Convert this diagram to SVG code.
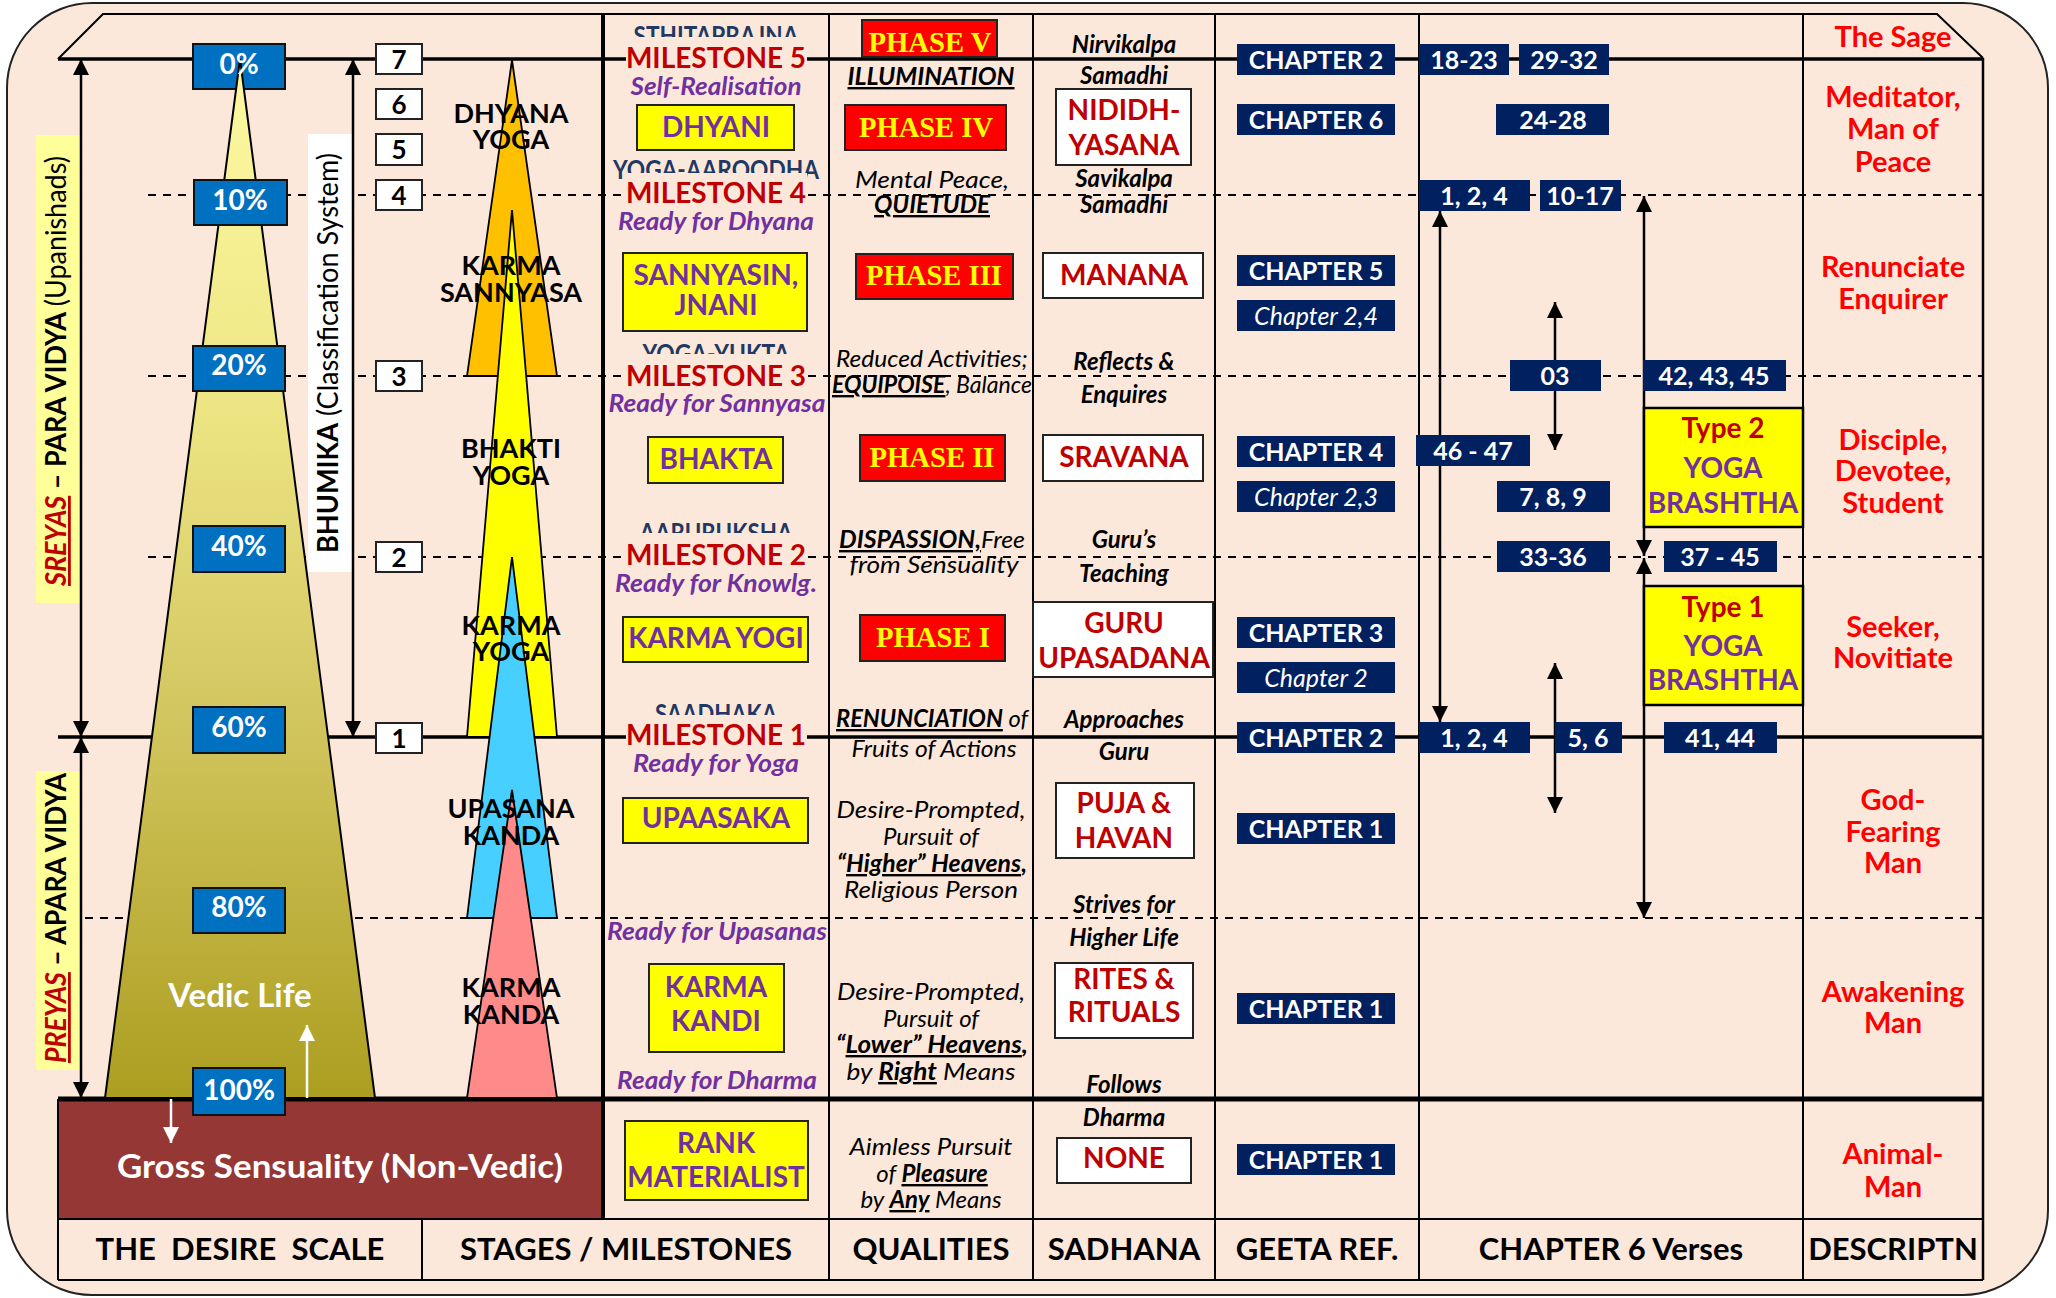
<svg xmlns="http://www.w3.org/2000/svg" width="2056" height="1298" viewBox="0 0 2056 1298">
<defs>
<linearGradient id="gScale" x1="0" y1="0" x2="0" y2="1">
<stop offset="0" stop-color="#FDF9A3"/>
<stop offset="0.3" stop-color="#F0E887"/>
<stop offset="0.6" stop-color="#D5C964"/>
<stop offset="1" stop-color="#AC9E20"/>
</linearGradient>
<marker id="ah" viewBox="0 0 16 16" refX="16" refY="8" markerWidth="16" markerHeight="16" markerUnits="userSpaceOnUse" orient="auto-start-reverse">
<path d="M0,0 L16,8 L0,16 z" fill="#000"/>
</marker>
<marker id="wh" viewBox="0 0 16 16" refX="16" refY="8" markerWidth="16" markerHeight="16" markerUnits="userSpaceOnUse" orient="auto">
<path d="M0,0 L16,8 L0,16 z" fill="#fff"/>
</marker>
</defs>
<style>
text{font-family:Lato,"Open Sans","DejaVu Sans",sans-serif}
.B{font-weight:700}
.I{font-style:italic}
.U{text-decoration:underline}
.pct{font-weight:700;font-size:28px;fill:#fff;text-anchor:middle}
.num{font-weight:700;font-size:26px;fill:#000;text-anchor:middle}
.cone{font-weight:700;font-size:27px;fill:#000;text-anchor:middle}
.ms{font-weight:700;font-size:28px;fill:#C00000;text-anchor:middle}
.pre{font-weight:700;font-size:27px;fill:#1F3864;text-anchor:middle}
.rdy{font-weight:700;font-style:italic;font-size:24px;fill:#7030A0;text-anchor:middle}
.stg{font-weight:700;font-size:28px;fill:#7030A0;text-anchor:middle}
.ph{font-family:"Liberation Serif","Times New Roman",serif;font-weight:700;font-size:30px;fill:#FFFF00;text-anchor:middle}
.q{font-style:italic;font-size:24px;fill:#000;text-anchor:middle}
.s{font-weight:700;font-style:italic;font-size:24px;fill:#000;text-anchor:middle}
.sd{font-weight:700;font-size:28px;fill:#C00000;text-anchor:middle}
.ch{font-weight:700;font-size:25px;fill:#fff;text-anchor:middle}
.chi{font-style:italic;font-size:25px;fill:#fff;text-anchor:middle}
.ds{font-weight:700;font-size:29px;fill:#FF0000;text-anchor:middle}
.hd{font-weight:700;font-size:31px;fill:#000;text-anchor:middle}
.ybox{fill:#FFFF00;stroke:#222;stroke-width:2}
.wbox{fill:#fff;stroke:#222;stroke-width:2}
.rbox{fill:#FF0000;stroke:#222;stroke-width:2}
.nbox{fill:#002060}
.pbox{fill:#0070C0;stroke:#111;stroke-width:2}
.bg{fill:#FCE8DA}
.dash{stroke:#000;stroke-width:1.8;stroke-dasharray:8 7;fill:none}
.thin{stroke:#000;stroke-width:2;fill:none}
.cone-s{stroke:#000;stroke-width:1.8}
.arr{stroke:#000;stroke-width:2.5;fill:none;marker-start:url(#ah);marker-end:url(#ah)}
.warr{stroke:#fff;stroke-width:2.5;fill:none;marker-end:url(#wh)}
</style>

<rect width="2056" height="1298" fill="#fff"/>
<rect x="7" y="3" width="2041" height="1292" rx="85" fill="#FCE8DA" stroke="#222" stroke-width="2"/>

<g id="frame">
<rect x="58" y="1099" width="545" height="120" fill="#953735"/>
<path class="thin" d="M58,59 L103,14 L1937,14 L1983,58"/>
<line class="dash" x1="148" y1="195" x2="1983" y2="195"/>
<line class="dash" x1="148" y1="376" x2="1983" y2="376"/>
<line class="dash" x1="148" y1="557" x2="1983" y2="557"/>
<line class="dash" x1="85" y1="918" x2="1983" y2="918"/>
<line x1="58" y1="59" x2="1983" y2="59" stroke="#000" stroke-width="3.5"/>
<line x1="58" y1="737" x2="1983" y2="737" stroke="#000" stroke-width="3.5"/>
<line x1="58" y1="1099" x2="1983" y2="1099" stroke="#000" stroke-width="5"/>
<line class="thin" x1="58" y1="1219" x2="1983" y2="1219"/>
<line class="thin" x1="58" y1="1280" x2="1983" y2="1280"/>
<line class="thin" x1="58" y1="1099" x2="58" y2="1280"/>
<line class="thin" x1="422" y1="1219" x2="422" y2="1280"/>
<line x1="603" y1="14" x2="603" y2="1219" stroke="#000" stroke-width="4"/>
<line class="thin" x1="829" y1="14" x2="829" y2="1280"/>
<line class="thin" x1="1033" y1="14" x2="1033" y2="1280"/>
<line class="thin" x1="1215" y1="14" x2="1215" y2="1280"/>
<line class="thin" x1="1419" y1="14" x2="1419" y2="1280"/>
<line class="thin" x1="1803" y1="14" x2="1803" y2="1280"/>
<line x1="1983" y1="58" x2="1983" y2="1280" stroke="#000" stroke-width="2.5"/>
</g>

<g id="sreyas-label">
<rect x="36" y="135" width="44" height="468" fill="#FFFF99"/>
<text transform="translate(66,586) rotate(-90)" font-size="28" textLength="430" lengthAdjust="spacingAndGlyphs"><tspan class="B I U" fill="#C00000">SREYAS</tspan><tspan class="B"> – PARA VIDYA </tspan><tspan>(Upanishads)</tspan></text>
</g>
<g id="preyas-label">
<rect x="36" y="771" width="45" height="299" fill="#FFFF99"/>
<text transform="translate(66,1063) rotate(-90)" font-size="28" textLength="290" lengthAdjust="spacingAndGlyphs"><tspan class="B I U" fill="#C00000">PREYAS</tspan><tspan class="B"> – APARA VIDYA</tspan></text>
</g>
<g id="bhumika-label">
<rect x="308" y="134" width="44" height="438" fill="#fff"/>
<text transform="translate(338,553) rotate(-90)" font-size="28" textLength="400" lengthAdjust="spacingAndGlyphs"><tspan class="B">BHUMIKA</tspan><tspan> (Classification System)</tspan></text>
</g>

<g id="levels">
<rect class="wbox" x="376" y="44" width="46" height="30"/><text class="num" x="399" y="69">7</text>
<rect class="wbox" x="376" y="89" width="46" height="30"/><text class="num" x="399" y="114">6</text>
<rect class="wbox" x="376" y="134" width="46" height="31"/><text class="num" x="399" y="159">5</text>
<rect class="wbox" x="376" y="180" width="46" height="30"/><text class="num" x="399" y="205">4</text>
<rect class="wbox" x="376" y="361" width="46" height="30"/><text class="num" x="399" y="386">3</text>
<rect class="wbox" x="376" y="542" width="46" height="30"/><text class="num" x="399" y="567">2</text>
<rect class="wbox" x="376" y="723" width="46" height="30"/><text class="num" x="399" y="748">1</text>
</g>

<g id="desire-scale">
<rect class="pbox" x="193" y="44" width="92" height="45"/>
<polygon points="240,59 375,1098 105,1098" fill="url(#gScale)" stroke="#000" stroke-width="2"/>
<text class="pct" x="239" y="74">0%</text>
<rect class="pbox" x="194" y="180" width="93" height="45"/><text class="pct" x="240" y="210">10%</text>
<rect class="pbox" x="193" y="346" width="92" height="45"/><text class="pct" x="239" y="375">20%</text>
<rect class="pbox" x="193" y="526" width="92" height="46"/><text class="pct" x="239" y="556">40%</text>
<rect class="pbox" x="193" y="707" width="92" height="46"/><text class="pct" x="239" y="737">60%</text>
<rect class="pbox" x="193" y="888" width="92" height="45"/><text class="pct" x="239" y="917">80%</text>
<rect class="pbox" x="193" y="1068" width="92" height="47"/><text class="pct" x="239" y="1100">100%</text>
<text x="240" y="1007" font-size="33" font-weight="700" fill="#fff" text-anchor="middle">Vedic Life</text>
<text x="340" y="1178" font-size="32" font-weight="700" fill="#fff" text-anchor="middle" textLength="446" lengthAdjust="spacingAndGlyphs">Gross Sensuality (Non-Vedic)</text>
</g>

<g id="cones">
<polygon class="cone-s" points="512,60 557,376 467,376" fill="#FFC000"/>
<polygon class="cone-s" points="512,210 557,737 467,737" fill="#FFFF00"/>
<polygon class="cone-s" points="512,557 557,918 467,918" fill="#47CFFF"/>
<polygon class="cone-s" points="512,790 557,1098 467,1098" fill="#FF8A8A"/>
<text class="cone" x="511" y="123">DHYANA</text><text class="cone" x="511" y="149">YOGA</text>
<text class="cone" x="511" y="275">KARMA</text><text class="cone" x="511" y="302">SANNYASA</text>
<text class="cone" x="511" y="458">BHAKTI</text><text class="cone" x="511" y="485">YOGA</text>
<text class="cone" x="511" y="635">KARMA</text><text class="cone" x="511" y="661">YOGA</text>
<text class="cone" x="511" y="818">UPASANA</text><text class="cone" x="511" y="845">KANDA</text>
<text class="cone" x="511" y="997">KARMA</text><text class="cone" x="511" y="1024">KANDA</text>
</g>

<g id="connectors">
<line class="arr" x1="81" y1="59" x2="81" y2="737"/>
<line class="arr" x1="81" y1="737" x2="81" y2="1098"/>
<line class="arr" x1="353" y1="59" x2="353" y2="737"/>
<line class="warr" x1="307" y1="1098" x2="307" y2="1025"/>
<line class="warr" x1="171" y1="1099" x2="171" y2="1143"/>
<line class="arr" x1="1440" y1="211" x2="1440" y2="722"/>
<line class="arr" x1="1555" y1="302" x2="1555" y2="450"/>
<line class="arr" x1="1555" y1="663" x2="1555" y2="813"/>
<line class="arr" x1="1644" y1="196" x2="1644" y2="556"/>
<line class="arr" x1="1644" y1="558" x2="1644" y2="918"/>
</g>

<g id="stages">
<text class="pre" x="716" y="45" textLength="165" lengthAdjust="spacingAndGlyphs">STHITAPRAJNA</text>
<rect class="bg" x="626" y="37" width="181" height="34"/>
<text class="ms" x="716" y="68">MILESTONE 5</text>
<text class="rdy" x="716" y="95" textLength="171" lengthAdjust="spacingAndGlyphs">Self-Realisation</text>
<rect class="ybox" x="637" y="105" width="157" height="45"/><text class="stg" x="716" y="137">DHYANI</text>
<text class="pre" x="716" y="179" textLength="206" lengthAdjust="spacingAndGlyphs">YOGA-AAROODHA</text>
<rect class="bg" x="626" y="173" width="181" height="35"/>
<text class="ms" x="716" y="203">MILESTONE 4</text>
<text class="rdy" x="716" y="230" textLength="196" lengthAdjust="spacingAndGlyphs">Ready for Dhyana</text>
<rect class="ybox" x="623" y="253" width="184" height="78"/><text class="stg" x="716" y="285">SANNYASIN,</text><text class="stg" x="716" y="315">JNANI</text>
<text class="pre" x="716" y="363" textLength="147" lengthAdjust="spacingAndGlyphs">YOGA-YUKTA</text>
<rect class="bg" x="626" y="354" width="181" height="35"/>
<text class="ms" x="716" y="386">MILESTONE 3</text>
<text class="rdy" x="717" y="412" textLength="217" lengthAdjust="spacingAndGlyphs">Ready for Sannyasa</text>
<rect class="ybox" x="648" y="437" width="135" height="46"/><text class="stg" x="716" y="469">BHAKTA</text>
<text class="pre" x="716" y="542" textLength="153" lengthAdjust="spacingAndGlyphs">AARURUKSHA</text>
<rect class="bg" x="626" y="533" width="181" height="35"/>
<text class="ms" x="716" y="565">MILESTONE 2</text>
<text class="rdy" x="716" y="592" textLength="202" lengthAdjust="spacingAndGlyphs">Ready for Knowlg.</text>
<rect class="ybox" x="623" y="617" width="185" height="45"/><text class="stg" x="716" y="648">KARMA YOGI</text>
<text class="pre" x="716" y="723" textLength="122" lengthAdjust="spacingAndGlyphs">SAADHAKA</text>
<rect class="bg" x="626" y="715" width="181" height="34"/>
<text class="ms" x="716" y="745">MILESTONE 1</text>
<text class="rdy" x="716" y="772" textLength="166" lengthAdjust="spacingAndGlyphs">Ready for Yoga</text>
<rect class="ybox" x="623" y="798" width="185" height="45"/><text class="stg" x="716" y="828">UPAASAKA</text>
<text class="rdy" x="717" y="940" textLength="220" lengthAdjust="spacingAndGlyphs">Ready for Upasanas</text>
<rect class="ybox" x="649" y="964" width="135" height="88"/><text class="stg" x="716" y="997">KARMA</text><text class="stg" x="716" y="1031">KANDI</text>
<text class="rdy" x="717" y="1089" textLength="200" lengthAdjust="spacingAndGlyphs">Ready for Dharma</text>
<rect class="ybox" x="625" y="1121" width="183" height="79"/><text class="stg" x="716" y="1153">RANK</text><text class="stg" x="716" y="1187">MATERIALIST</text>
</g>

<g id="qualities">
<rect class="rbox" x="862" y="20" width="135" height="37"/><text class="ph" x="930" y="52" textLength="123" lengthAdjust="spacingAndGlyphs">PHASE V</text>
<text class="s U" x="931" y="85" textLength="167" lengthAdjust="spacingAndGlyphs">ILLUMINATION</text>
<rect class="rbox" x="845" y="105" width="161" height="45"/><text class="ph" x="926" y="137" textLength="134" lengthAdjust="spacingAndGlyphs">PHASE IV</text>
<text class="q" x="932" y="188" textLength="154" lengthAdjust="spacingAndGlyphs">Mental Peace,</text>
<text class="s U" x="932" y="213" textLength="116" lengthAdjust="spacingAndGlyphs">QUIETUDE</text>
<rect class="rbox" x="856" y="254" width="157" height="45"/><text class="ph" x="934" y="285" textLength="136" lengthAdjust="spacingAndGlyphs">PHASE III</text>
<text class="q" x="932" y="367" textLength="192" lengthAdjust="spacingAndGlyphs">Reduced Activities;</text>
<text class="q" x="932" y="393" textLength="200" lengthAdjust="spacingAndGlyphs"><tspan class="B U">EQUIPOISE</tspan>, Balance</text>
<rect class="rbox" x="860" y="435" width="145" height="46"/><text class="ph" x="932" y="467" textLength="125" lengthAdjust="spacingAndGlyphs">PHASE II</text>
<text class="q" x="932" y="548" textLength="186" lengthAdjust="spacingAndGlyphs"><tspan class="B U">DISPASSION,</tspan>Free</text>
<text class="q" x="934" y="573" textLength="169" lengthAdjust="spacingAndGlyphs">from Sensuality</text>
<rect class="rbox" x="860" y="615" width="145" height="46"/><text class="ph" x="933" y="647" textLength="114" lengthAdjust="spacingAndGlyphs">PHASE I</text>
<text class="q" x="932" y="727" textLength="192" lengthAdjust="spacingAndGlyphs"><tspan class="B U">RENUNCIATION</tspan> of</text>
<text class="q" x="934" y="757" textLength="165" lengthAdjust="spacingAndGlyphs">Fruits of Actions</text>
<text class="q" x="931" y="818" textLength="189" lengthAdjust="spacingAndGlyphs">Desire-Prompted,</text>
<text class="q" x="931" y="845">Pursuit of</text>
<text class="q B" x="932" y="872" textLength="190" lengthAdjust="spacingAndGlyphs">“<tspan class="U">Higher” Heavens</tspan>,</text>
<text class="q" x="931" y="898" textLength="174" lengthAdjust="spacingAndGlyphs">Religious Person</text>
<text class="q" x="931" y="1000" textLength="188" lengthAdjust="spacingAndGlyphs">Desire-Prompted,</text>
<text class="q" x="931" y="1027">Pursuit of</text>
<text class="q B" x="932" y="1053" textLength="192" lengthAdjust="spacingAndGlyphs">“<tspan class="U">Lower” Heavens</tspan>,</text>
<text class="q" x="931" y="1080" textLength="169" lengthAdjust="spacingAndGlyphs">by <tspan class="B U">Right</tspan> Means</text>
<text class="q" x="931" y="1155" textLength="163" lengthAdjust="spacingAndGlyphs">Aimless Pursuit</text>
<text class="q" x="932" y="1182">of <tspan class="B U">Pleasure</tspan></text>
<text class="q" x="931" y="1208">by <tspan class="B U">Any</tspan> Means</text>
</g>

<g id="sadhana">
<text class="s" x="1124" y="53">Nirvikalpa</text><text class="s" x="1124" y="84">Samadhi</text>
<rect class="wbox" x="1056" y="89" width="135" height="76"/><text class="sd" x="1124" y="120">NIDIDH-</text><text class="sd" x="1124" y="155">YASANA</text>
<text class="s" x="1124" y="187">Savikalpa</text><text class="s" x="1124" y="213">Samadhi</text>
<rect class="wbox" x="1043" y="253" width="160" height="45"/><text class="sd" x="1124" y="285">MANANA</text>
<text class="s" x="1124" y="370">Reflects &amp;</text><text class="s" x="1124" y="403">Enquires</text>
<rect class="wbox" x="1043" y="435" width="160" height="46"/><text class="sd" x="1124" y="467">SRAVANA</text>
<text class="s" x="1124" y="548">Guru’s</text><text class="s" x="1124" y="582">Teaching</text>
<rect class="wbox" x="1033" y="602" width="180" height="75"/><text class="sd" x="1124" y="633">GURU</text><text class="sd" x="1124" y="668">UPASADANA</text>
<text class="s" x="1124" y="728">Approaches</text><text class="s" x="1124" y="760">Guru</text>
<rect class="wbox" x="1056" y="783" width="138" height="75"/><text class="sd" x="1124" y="813">PUJA &amp;</text><text class="sd" x="1124" y="848">HAVAN</text>
<text class="s" x="1124" y="913">Strives for</text><text class="s" x="1124" y="946">Higher Life</text>
<rect class="wbox" x="1055" y="963" width="138" height="75"/><text class="sd" x="1124" y="989">RITES &amp;</text><text class="sd" x="1124" y="1022">RITUALS</text>
<text class="s" x="1124" y="1093">Follows</text><text class="s" x="1124" y="1126">Dharma</text>
<rect class="wbox" x="1057" y="1138" width="134" height="45"/><text class="sd" x="1124" y="1168">NONE</text>
</g>

<g id="geeta-ref">
<rect class="nbox" x="1237" y="44" width="158" height="31"/><text class="ch" x="1316" y="69">CHAPTER 2</text>
<rect class="nbox" x="1237" y="104" width="158" height="31"/><text class="ch" x="1316" y="129">CHAPTER 6</text>
<rect class="nbox" x="1237" y="255" width="158" height="31"/><text class="ch" x="1316" y="280">CHAPTER 5</text>
<rect class="nbox" x="1237" y="300" width="158" height="31"/><text class="chi" x="1316" y="325">Chapter 2,4</text>
<rect class="nbox" x="1237" y="436" width="158" height="31"/><text class="ch" x="1316" y="461">CHAPTER 4</text>
<rect class="nbox" x="1237" y="481" width="158" height="31"/><text class="chi" x="1316" y="506">Chapter 2,3</text>
<rect class="nbox" x="1237" y="617" width="158" height="31"/><text class="ch" x="1316" y="642">CHAPTER 3</text>
<rect class="nbox" x="1237" y="662" width="158" height="31"/><text class="chi" x="1316" y="687">Chapter 2</text>
<rect class="nbox" x="1237" y="722" width="158" height="31"/><text class="ch" x="1316" y="747">CHAPTER 2</text>
<rect class="nbox" x="1237" y="813" width="158" height="31"/><text class="ch" x="1316" y="838">CHAPTER 1</text>
<rect class="nbox" x="1237" y="993" width="158" height="31"/><text class="ch" x="1316" y="1018">CHAPTER 1</text>
<rect class="nbox" x="1237" y="1144" width="158" height="31"/><text class="ch" x="1316" y="1169">CHAPTER 1</text>
</g>

<g id="chapter6-verses">
<rect class="nbox" x="1419" y="44" width="90" height="31"/><text class="ch" x="1464" y="69">18-23</text>
<rect class="nbox" x="1519" y="44" width="90" height="31"/><text class="ch" x="1564" y="69">29-32</text>
<rect class="nbox" x="1496" y="104" width="113" height="31"/><text class="ch" x="1553" y="129">24-28</text>
<rect class="nbox" x="1419" y="180" width="111" height="31"/><text class="ch" x="1474" y="205">1, 2, 4</text>
<rect class="nbox" x="1540" y="180" width="81" height="31"/><text class="ch" x="1580" y="205">10-17</text>
<rect class="nbox" x="1510" y="360" width="91" height="31"/><text class="ch" x="1555" y="385">03</text>
<rect class="nbox" x="1643" y="360" width="143" height="31"/><text class="ch" x="1714" y="385">42, 43, 45</text>
<rect class="nbox" x="1416" y="435" width="114" height="31"/><text class="ch" x="1473" y="460">46 - 47</text>
<rect class="nbox" x="1497" y="481" width="113" height="31"/><text class="ch" x="1553" y="506">7, 8, 9</text>
<rect class="nbox" x="1497" y="541" width="113" height="31"/><text class="ch" x="1553" y="566">33-36</text>
<rect class="nbox" x="1664" y="541" width="113" height="31"/><text class="ch" x="1720" y="566">37 - 45</text>
<rect class="nbox" x="1419" y="722" width="111" height="31"/><text class="ch" x="1474" y="747">1, 2, 4</text>
<rect class="nbox" x="1555" y="722" width="67" height="31"/><text class="ch" x="1588" y="747">5, 6</text>
<rect class="nbox" x="1664" y="722" width="113" height="31"/><text class="ch" x="1720" y="747">41, 44</text>
</g>

<g id="type2">
<rect x="1644" y="408" width="159" height="119" fill="#FFFF00" stroke="#000" stroke-width="2.5"/>
<text class="ms" x="1723" y="438">Type 2</text><text class="stg" x="1723" y="478">YOGA</text><text class="stg" x="1723" y="513">BRASHTHA</text>
</g>
<g id="type1">
<rect x="1644" y="586" width="159" height="119" fill="#FFFF00" stroke="#000" stroke-width="2.5"/>
<text class="ms" x="1723" y="617">Type 1</text><text class="stg" x="1723" y="656">YOGA</text><text class="stg" x="1723" y="690">BRASHTHA</text>
</g>

<g id="description">
<text class="ds" x="1893" y="47">The Sage</text>
<text class="ds" x="1893" y="107">Meditator,</text><text class="ds" x="1893" y="139">Man of</text><text class="ds" x="1893" y="172">Peace</text>
<text class="ds" x="1893" y="277">Renunciate</text><text class="ds" x="1893" y="309">Enquirer</text>
<text class="ds" x="1893" y="450">Disciple,</text><text class="ds" x="1893" y="481">Devotee,</text><text class="ds" x="1893" y="513">Student</text>
<text class="ds" x="1893" y="637">Seeker,</text><text class="ds" x="1893" y="668">Novitiate</text>
<text class="ds" x="1893" y="810">God-</text><text class="ds" x="1893" y="842">Fearing</text><text class="ds" x="1893" y="873">Man</text>
<text class="ds" x="1893" y="1002">Awakening</text><text class="ds" x="1893" y="1033">Man</text>
<text class="ds" x="1893" y="1164">Animal-</text><text class="ds" x="1893" y="1197">Man</text>
</g>

<g id="header">
<text class="hd" x="240" y="1260" style="white-space:pre">THE  DESIRE  SCALE</text>
<text class="hd" x="626" y="1260">STAGES / MILESTONES</text>
<text class="hd" x="931" y="1260">QUALITIES</text>
<text class="hd" x="1124" y="1260">SADHANA</text>
<text class="hd" x="1317" y="1260">GEETA REF.</text>
<text class="hd" x="1611" y="1260">CHAPTER 6 Verses</text>
<text class="hd" x="1893" y="1260">DESCRIPTN</text>
</g>
</svg>
